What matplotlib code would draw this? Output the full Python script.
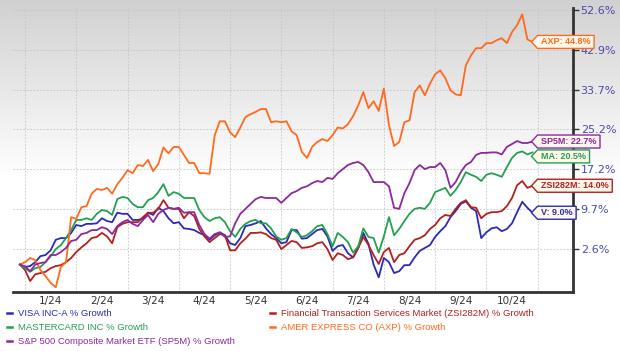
import numpy as np
import matplotlib
matplotlib.use("Agg")
import matplotlib.pyplot as plt
from matplotlib.patches import Polygon
from matplotlib.lines import Line2D

# time in months since Jan 1 2024, sampled every ~3 trading days
t = np.round(np.arange(101) * 0.1 - 0.1, 2)

axp = [0.0, 0.4, 1.1, 0.75, -0.9, -1.9, -3.0, -3.7, -0.4, 0.4,
       8.2, 7.9, 10.0, 10.2, 12.5, 13.4, 13.2, 13.6, 12.5, 14.3,
       15.5, 17.0, 16.4, 18.0, 17.8, 19.0, 16.8, 18.2, 21.5, 20.3,
       21.6, 21.6, 20.0, 18.4, 18.4, 16.4, 16.4, 16.3, 24.0, 26.9,
       26.9, 24.6, 23.6, 25.6, 27.8, 28.4, 28.9, 29.5, 29.5, 26.7,
       26.9, 26.7, 26.9, 24.8, 24.0, 20.6, 19.4, 21.6, 22.6, 23.2,
       22.8, 24.0, 25.6, 25.4, 26.3, 28.0, 30.3, 33.2, 29.7, 31.2,
       29.1, 34.0, 26.1, 21.8, 22.6, 26.7, 27.1, 33.2, 34.7, 32.5,
       35.1, 37.2, 38.1, 36.3, 33.6, 32.7, 32.5, 39.3, 41.6, 43.3,
       43.3, 44.5, 44.5, 45.2, 45.7, 44.5, 47.2, 48.9, 51.6, 45.4, 44.8]

sp5m = [0.0, -0.3, -1.1, 0.0, 0.25, 0.4, 1.6, 1.6, 2.1, 2.8,
        4.0, 4.2, 5.2, 5.4, 5.9, 5.9, 6.4, 6.1, 5.2, 6.6,
        7.3, 7.7, 7.0, 6.6, 7.7, 8.6, 7.3, 8.8, 9.5, 9.9,
        9.7, 9.9, 9.0, 9.1, 9.1, 6.8, 5.2, 4.4, 5.2, 5.5,
        4.7, 4.8, 7.1, 8.8, 9.7, 10.6, 11.5, 11.9, 11.7, 11.7,
        11.7, 10.8, 11.7, 12.6, 13.0, 13.6, 13.9, 14.5, 14.9, 14.7,
        15.5, 15.3, 16.4, 17.2, 18.0, 18.4, 18.6, 18.0, 16.6, 14.7,
        14.7, 14.7, 13.9, 9.9, 9.7, 12.6, 14.5, 17.0, 18.0, 17.2,
        17.6, 17.6, 18.4, 17.0, 13.6, 14.7, 16.6, 18.0, 18.6, 20.0,
        20.4, 20.4, 20.5, 20.5, 20.1, 21.6, 22.2, 22.8, 22.4, 22.4, 22.7]

ma = [0.0, -0.6, -1.2, -0.6, -0.4, 0.4, 1.4, 2.6, 3.3, 4.5,
      5.9, 7.7, 7.7, 8.0, 7.7, 8.8, 9.5, 9.3, 8.6, 11.5,
      11.9, 11.7, 10.6, 10.0, 10.0, 11.3, 11.7, 12.8, 14.3, 12.1,
      12.8, 12.5, 11.7, 11.7, 11.7, 9.5, 8.2, 7.5, 8.0, 8.2,
      7.3, 5.7, 4.7, 6.1, 7.0, 7.5, 7.7, 7.1, 7.1, 6.2,
      4.8, 4.2, 4.5, 6.1, 5.5, 4.7, 5.0, 5.7, 6.6, 6.8,
      5.2, 3.1, 5.4, 4.7, 3.8, 2.0, 3.1, 6.2, 4.7, 4.5,
      2.0, 4.8, 8.2, 5.0, 6.1, 7.5, 8.8, 9.7, 9.9, 9.7,
      10.8, 12.8, 13.2, 13.6, 12.1, 13.2, 14.7, 16.6, 16.1, 15.7,
      14.9, 16.1, 16.4, 16.1, 15.7, 17.6, 19.4, 20.4, 20.7, 20.1, 20.5]

zsi = [0.0, -0.9, -2.7, -1.6, -1.4, -1.2, -0.6, -0.25, -0.1, 0.4,
       1.1, 2.1, 2.9, 3.6, 4.5, 4.7, 5.4, 4.8, 3.6, 6.4,
       7.0, 7.3, 7.3, 7.3, 8.2, 9.0, 9.0, 9.7, 11.3, 9.9,
       9.7, 9.7, 8.0, 9.1, 8.4, 6.1, 4.8, 3.8, 4.5, 5.2,
       5.0, 2.4, 2.4, 3.6, 4.4, 5.4, 5.4, 5.5, 5.2, 4.5,
       4.2, 2.6, 3.3, 4.0, 3.8, 2.8, 2.9, 3.1, 3.6, 3.8,
       2.6, 0.75, 1.9, 1.6, 0.9, 1.2, 2.8, 4.7, 3.3, 1.6,
       0.1, 2.1, 2.8, 0.4, 1.6, 1.9, 3.1, 4.2, 4.5, 5.0,
       6.1, 6.8, 8.0, 8.6, 8.4, 9.7, 10.8, 11.3, 10.0, 9.9,
       8.0, 8.8, 9.1, 9.1, 9.3, 10.2, 11.7, 14.1, 14.9, 13.6, 14.0]

visa = [0.0, -0.4, -0.25, 0.4, 1.4, 1.6, 2.4, 4.2, 4.5, 4.5,
        5.4, 6.8, 6.6, 7.0, 7.0, 7.1, 8.0, 7.5, 7.3, 9.0,
        8.8, 8.8, 7.7, 7.7, 7.9, 9.0, 8.6, 9.9, 9.3, 8.0,
        7.1, 7.3, 6.2, 6.1, 5.9, 5.4, 5.0, 4.2, 5.0, 5.5,
        5.0, 3.6, 3.3, 4.5, 6.6, 6.8, 7.1, 7.5, 6.2, 5.2,
        4.5, 3.6, 3.8, 5.9, 5.9, 4.4, 4.5, 5.2, 5.9, 6.1,
        4.8, 2.3, 3.1, 3.3, 1.9, 1.2, 2.8, 5.4, 3.5, 0.0,
        -2.1, 1.1, 0.4, -1.4, -1.1, -0.1, -0.1, 1.2, 2.3, 2.8,
        3.3, 4.7, 5.7, 6.6, 8.2, 9.3, 10.6, 11.1, 9.9, 9.3,
        4.5, 5.5, 6.2, 6.4, 5.7, 6.1, 7.1, 9.1, 11.0, 9.9, 9.0]

month_labels = ["1/24", "2/24", "3/24", "4/24", "5/24",
                "6/24", "7/24", "8/24", "9/24", "10/24"]
y_ticks = [2.6, 9.7, 17.2, 25.2, 33.7, 42.9, 52.6]

series = [
    ("VISA INC-A % Growth", "V", visa, "#2b2bb5"),
    ("Financial Transaction Services Market (ZSI282M) % Growth", "ZSI282M", zsi, "#b3201f"),
    ("MASTERCARD INC % Growth", "MA", ma, "#23a050"),
    ("AMER EXPRESS CO (AXP) % Growth", "AXP", axp, "#ff6a1c"),
    ("S&P 500 Composite Market ETF (SP5M) % Growth", "SP5M", sp5m, "#8b2a9c"),
]

W, H = 620, 351
fig = plt.figure(figsize=(W / 100, H / 100), dpi=100)

# grey fade at the top of the picture
bg = fig.add_axes([0, 0, 1, 1], zorder=-5)
rows = np.arange(H)
shade = np.clip(208 + (255 - 208) * rows / 180, 0, 255) / 255
img = np.repeat(shade[:, None], 2, axis=1)
bg.imshow(img, cmap="gray", vmin=0, vmax=1, aspect="auto", extent=[0, 1, 0, 1])
bg.axis("off")

ax = fig.add_axes([12.5 / W, 1 - 292 / H, (573 - 12.5) / W, (292 - 8) / H])
ax.patch.set_alpha(0)

fwd = lambda v: np.log10(1 + np.asarray(v) / 100)
inv = lambda u: (10 ** np.asarray(u) - 1) * 100
ax.set_yscale("function", functions=(fwd, inv))

for name, short, vals, col in series:
    ax.plot(t, vals, color=col, lw=1.3, solid_joinstyle="round", zorder=3)

ax.set_xlim(-0.244, 10.69)
ax.set_ylim(-4.46, 53.2)

ax.set_xticks(range(11))
ax.set_xticklabels([])
ax.set_xticks(np.arange(10) + 0.5, minor=True)
ax.set_xticklabels(month_labels, minor=True)
ax.tick_params(axis="x", which="both", length=0, pad=3,
               labelsize=7.5, labelcolor="#333333")
ax.grid(axis="x", which="major", color="#c4c4c4", lw=0.6, ls=(0, (2, 2)))

ax.yaxis.tick_right()
ax.set_yticks(y_ticks)
ax.set_yticklabels([f"{v}%" for v in y_ticks])
ax.yaxis.set_minor_locator(matplotlib.ticker.NullLocator())
ax.tick_params(axis="y", length=4, width=1, color="#333333", pad=1.5,
               labelsize=8, labelcolor="#4a4aa8")
ax.grid(axis="y", color="#c4c4c4", lw=0.6, ls=(0, (2, 2)))

for s in ["left", "top"]:
    ax.spines[s].set_visible(False)
for s in ["right", "bottom"]:
    ax.spines[s].set_color("#333333")
    ax.spines[s].set_linewidth(2)

# end-of-line tags
fig.canvas.draw()
renderer = fig.canvas.get_renderer()
shift = {"MA": -4}
for name, short, vals, col in series:
    xd, yd = ax.transData.transform((t[-1], vals[-1]))
    yd += shift.get(short, 0)
    txt = fig.text((xd + 8) / W, yd / H, f"{short}: {vals[-1]:.1f}%",
                   color=col, fontsize=6.5, fontweight="bold",
                   family="Liberation Sans", va="center", ha="left", zorder=11)
    bb = txt.get_window_extent(renderer)
    x_right = bb.x1 + 4
    h2 = 6.5
    verts = [(xd - 1, yd), (xd + 5, yd + h2), (x_right, yd + h2),
             (x_right, yd - h2), (xd + 5, yd - h2)]
    verts = [(vx / W, vy / H) for vx, vy in verts]
    fig.add_artist(Polygon(verts, closed=True, transform=fig.transFigure,
                           facecolor="#fff8ea", edgecolor=col, lw=1, zorder=10))

# legend below the chart
legend_pos = [(7, 313), (270, 313), (7, 327), (270, 327), (7, 341)]
for (name, short, vals, col), (lx, ly) in zip(series, legend_pos):
    yy = 1 - ly / H
    fig.add_artist(Line2D([lx / W, (lx + 5) / W], [yy, yy], color=col, lw=1.8,
                          transform=fig.transFigure))
    fig.text((lx + 11) / W, yy, name, color=col, fontsize=6.8,
             family="Liberation Sans", va="center", ha="left")

fig.savefig("out.png", dpi=100)
